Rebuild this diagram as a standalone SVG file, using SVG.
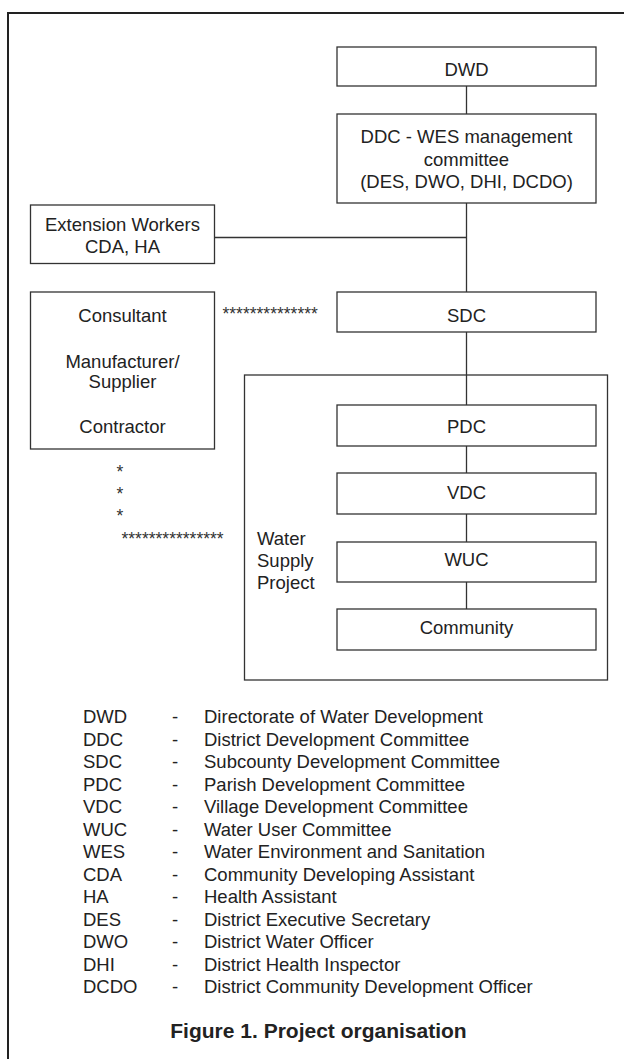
<svg xmlns="http://www.w3.org/2000/svg" width="624" height="1059" viewBox="0 0 624 1059">
<style>
.bx{fill:#fff;stroke:#333;stroke-width:1.3}
.t{font-family:"Liberation Sans",Arial,Helvetica,sans-serif;font-size:18.5px;fill:#222}
.c{text-anchor:middle}
.st{font-family:"Liberation Sans",Arial,Helvetica,sans-serif;font-size:17.5px;fill:#333}
.ln{stroke:#333;stroke-width:1.3;fill:none}
.ttl{font-family:"Liberation Sans",Arial,Helvetica,sans-serif;font-size:21px;font-weight:bold;fill:#222;text-anchor:middle}
</style>
<rect width="624" height="1059" fill="#fff"/>
<path d="M8,1059 V13 H624" fill="none" stroke="#222" stroke-width="2"/>
<g id="connectors">
<line class="ln" x1="466.5" y1="86" x2="466.5" y2="114"/>
<line class="ln" x1="466.5" y1="203" x2="466.5" y2="292"/>
<line class="ln" x1="214.5" y1="237.5" x2="466.5" y2="237.5"/>
<line class="ln" x1="466.5" y1="332" x2="466.5" y2="405"/>
<line class="ln" x1="466.5" y1="446" x2="466.5" y2="473"/>
<line class="ln" x1="466.5" y1="514" x2="466.5" y2="542"/>
<line class="ln" x1="466.5" y1="582" x2="466.5" y2="609"/>
<text class="st" x="222.5" y="319.5">**************</text>
<text class="st" x="120" y="478" text-anchor="middle">*</text>
<text class="st" x="120" y="500" text-anchor="middle">*</text>
<text class="st" x="120" y="522" text-anchor="middle">*</text>
<text class="st" x="121.5" y="545">***************</text>
</g>
<g id="water-supply-project">
<rect class="bx" x="244.5" y="375" width="363" height="305" fill="none" style="fill:none"/>
<text class="t" x="257" y="545">Water</text>
<text class="t" x="257" y="567">Supply</text>
<text class="t" x="257" y="589">Project</text>
</g>
<g id="dwd">
<rect class="bx" x="337" y="47" width="259" height="39"/>
<text class="t c" x="466.5" y="76">DWD</text>
</g>
<g id="ddc">
<rect class="bx" x="337" y="114" width="259" height="89"/>
<text class="t c" x="466.5" y="143">DDC - WES management</text>
<text class="t c" x="466.5" y="166">committee</text>
<text class="t c" x="466.5" y="188">(DES, DWO, DHI, DCDO)</text>
</g>
<g id="extension">
<rect class="bx" x="30.5" y="205" width="184" height="58.5"/>
<text class="t c" x="122.5" y="231">Extension Workers</text>
<text class="t c" x="122.5" y="253">CDA, HA</text>
</g>
<g id="consultant">
<rect class="bx" x="30.5" y="292" width="184" height="157"/>
<text class="t c" x="122.5" y="321.5">Consultant</text>
<text class="t c" x="122.5" y="368">Manufacturer/</text>
<text class="t c" x="122.5" y="388">Supplier</text>
<text class="t c" x="122.5" y="433">Contractor</text>
</g>
<g id="sdc">
<rect class="bx" x="337" y="292" width="259" height="40"/>
<text class="t c" x="466.5" y="321.5">SDC</text>
</g>
<g id="pdc">
<rect class="bx" x="337" y="405" width="259" height="41"/>
<text class="t c" x="466.5" y="433">PDC</text>
</g>
<g id="vdc">
<rect class="bx" x="337" y="473" width="259" height="41"/>
<text class="t c" x="466.5" y="499">VDC</text>
</g>
<g id="wuc">
<rect class="bx" x="337" y="542" width="259" height="40"/>
<text class="t c" x="466.5" y="566">WUC</text>
</g>
<g id="community">
<rect class="bx" x="337" y="609" width="259" height="41"/>
<text class="t c" x="466.5" y="634">Community</text>
</g>
<g id="legend" class="t">
<text x="83" y="723">DWD</text><text x="172" y="723">-</text><text x="204" y="723">Directorate of Water Development</text>
<text x="83" y="745.5">DDC</text><text x="172" y="745.5">-</text><text x="204" y="745.5">District Development Committee</text>
<text x="83" y="768">SDC</text><text x="172" y="768">-</text><text x="204" y="768">Subcounty Development Committee</text>
<text x="83" y="790.5">PDC</text><text x="172" y="790.5">-</text><text x="204" y="790.5">Parish Development Committee</text>
<text x="83" y="813">VDC</text><text x="172" y="813">-</text><text x="204" y="813">Village Development Committee</text>
<text x="83" y="835.5">WUC</text><text x="172" y="835.5">-</text><text x="204" y="835.5">Water User Committee</text>
<text x="83" y="858">WES</text><text x="172" y="858">-</text><text x="204" y="858">Water Environment and Sanitation</text>
<text x="83" y="880.5">CDA</text><text x="172" y="880.5">-</text><text x="204" y="880.5">Community Developing Assistant</text>
<text x="83" y="903">HA</text><text x="172" y="903">-</text><text x="204" y="903">Health Assistant</text>
<text x="83" y="925.5">DES</text><text x="172" y="925.5">-</text><text x="204" y="925.5">District Executive Secretary</text>
<text x="83" y="948">DWO</text><text x="172" y="948">-</text><text x="204" y="948">District Water Officer</text>
<text x="83" y="970.5">DHI</text><text x="172" y="970.5">-</text><text x="204" y="970.5">District Health Inspector</text>
<text x="83" y="993">DCDO</text><text x="172" y="993">-</text><text x="204" y="993">District Community Development Officer</text>
</g>
<text class="ttl" x="318.5" y="1038">Figure 1. Project organisation</text>
</svg>
